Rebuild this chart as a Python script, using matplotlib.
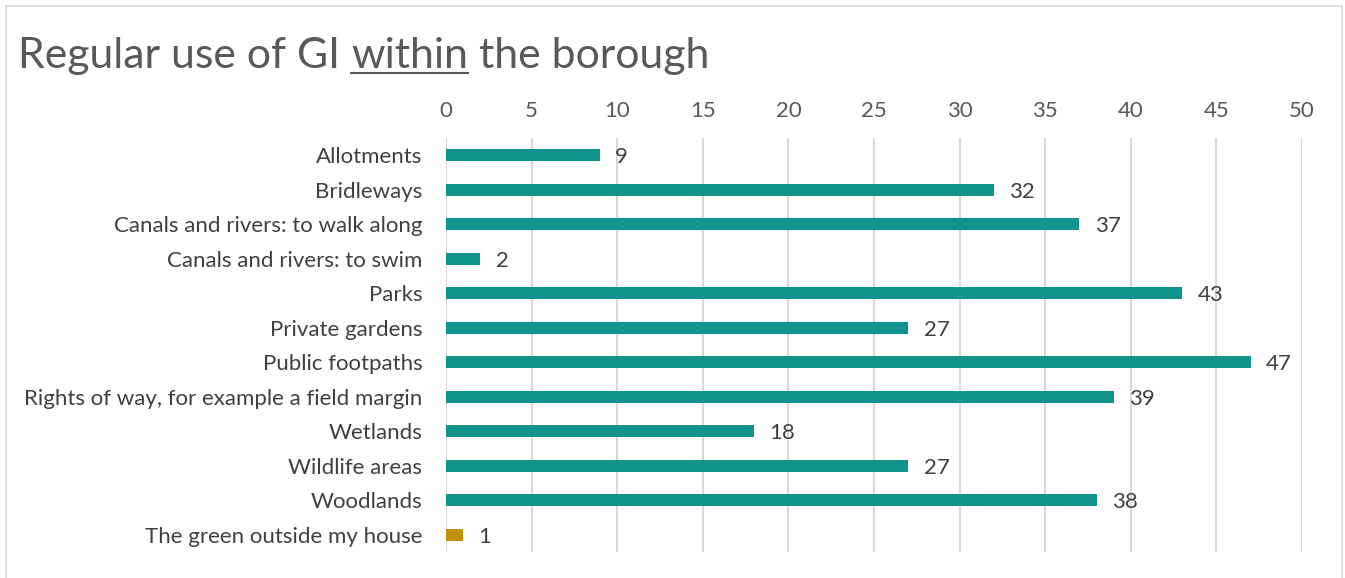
import matplotlib
matplotlib.use("Agg")
import matplotlib.pyplot as plt
from matplotlib.patches import Rectangle
from matplotlib.lines import Line2D

categories = ["Allotments", "Bridleways", "Canals and rivers: to walk along",
              "Canals and rivers: to swim", "Parks", "Private gardens",
              "Public footpaths", "Rights of way, for example a field margin",
              "Wetlands", "Wildlife areas", "Woodlands", "The green outside my house"]
values = [9, 32, 37, 2, 43, 27, 47, 39, 18, 27, 38, 1]
bar_colors = ["#10948C"] * 11 + ["#C38F05"]
xticks = [0, 5, 10, 15, 20, 25, 30, 35, 40, 45, 50]

W, H = 1345, 578
FONT = "Lato"
FS = 16
fig = plt.figure(figsize=(W / 100, H / 100), dpi=100)
fig.patch.set_facecolor("white")

# outer frame
fig.add_artist(Rectangle((6 / W, -0.01), (1342 - 6) / W, 1 - 6 / H + 0.01,
                         transform=fig.transFigure, fill=False,
                         edgecolor="#D9D9D9", linewidth=1.2))

ax = fig.add_axes([446 / W, 1 - 552 / H, (1302 - 446) / W, (552 - 138) / H])
y = list(range(len(categories)))
ax.barh(y, values, height=0.35, color=bar_colors, zorder=3)
ax.set_ylim(len(categories) - 0.5, -0.5)
ax.set_xlim(0, 50)
ax.set_xticks(xticks)
ax.set_yticks(y)
ax.set_yticklabels(categories, fontsize=FS, color="#404040", family=FONT)
ax.xaxis.tick_top()
ax.tick_params(axis="x", length=0, pad=12, labelsize=FS, labelcolor="#595959")
ax.tick_params(axis="y", length=0, pad=17)
for lab in ax.get_xticklabels():
    lab.set_family(FONT)
ax.grid(axis="x", color="#D9D9D9", linewidth=1.5, zorder=0)
for s in ax.spines.values():
    s.set_visible(False)

for yi, v in zip(y, values):
    ax.annotate(str(v), (v, yi), xytext=(11, -1.5), textcoords="offset points",
                va="center", ha="left", fontsize=FS, color="#404040",
                family=FONT)

# title with underlined "within"
parts = ["Regular use of GI ", "within", " the borough"]
fig.canvas.draw()
r = fig.canvas.get_renderer()
x = 18 / W
ytit = 1 - 68 / H
under = None
for i, p in enumerate(parts):
    t = fig.text(x, ytit, p, fontsize=30.8, color="#595959", family="Lato",
                 fontweight="normal", va="baseline", ha="left")
    bb = t.get_window_extent(renderer=r)
    if i == 1:
        under = (bb.x0 / W, bb.x1 / W)
    x = bb.x1 / W
fig.add_artist(Line2D([under[0], under[1]], [ytit - 5 / H, ytit - 5 / H],
                      transform=fig.transFigure, color="#595959", linewidth=1.5))

fig.savefig("out.png", dpi=100, facecolor="white")
